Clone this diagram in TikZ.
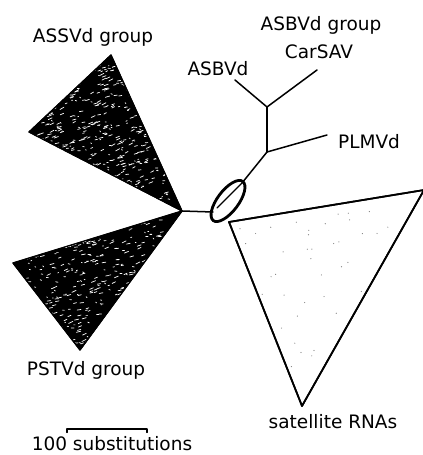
\documentclass[tikz,border=0pt]{standalone}
\usepackage{fontspec}
\setmainfont{DejaVu Sans}
\usetikzlibrary{shapes.geometric}
\begin{document}
\begin{tikzpicture}[x=1bp,y=-1bp,
  branch/.style={line width=1.5bp, line cap=round, line join=round},
  lbl/.style={font=\fontsize{18.5bp}{22bp}\selectfont, inner sep=0pt},
  darktri/.style={fill=black, draw=black, line width=1.2bp, line join=round},
  tribord/.style={draw=black, line width=1.2bp, line join=round},
  lighttri/.style={fill=white, draw=black, line width=1.7bp, line join=round},
  speck/.style={white, line width=0.7bp, line cap=round},
  ringstyle/.style={draw=black, line width=2.8bp, ellipse, minimum width=49bp, minimum height=21bp, inner sep=0pt, rotate=53}]
\useasboundingbox (0,0) rectangle (422,455);
% coordinates
\coordinate (J) at (182,211);
\coordinate (ASSVa) at (111,55);
\coordinate (ASSVb) at (29,132);
\coordinate (PSTVa) at (13,263);
\coordinate (PSTVb) at (80,350);
\coordinate (EL) at (213,212);
\coordinate (EI) at (217,208);
\coordinate (ET) at (242,183);
\coordinate (B1) at (267,152);
\coordinate (B2) at (267,107);
\coordinate (PL) at (327,135);
\coordinate (AS) at (235,80);
\coordinate (CS) at (317,70);
\coordinate (S) at (229,222);
\coordinate (SR) at (424,190);
\coordinate (SB) at (302,406);
\coordinate (barL) at (67,429);
\coordinate (barR) at (147,429);
% satellite triangle
\path[lighttri] (S) -- (SR) -- (SB) -- cycle;
\begin{scope}
\clip (S) -- (SR) -- (SB) -- cycle;
\pgfmathsetseed{7}
\foreach \i in {1,...,80}{
  \pgfmathsetmacro{\px}{235+175*rnd}
  \pgfmathsetmacro{\py}{200+200*rnd}
  \fill[black!50] (\px,\py) circle (0.6bp);
}
\end{scope}
\draw[lighttri, fill=none] (S) -- (SR) -- (SB) -- cycle;
% ASSVd triangle
\path[darktri] (J) -- (ASSVa) -- (ASSVb) -- cycle;
\begin{scope}
\clip (J) -- (ASSVa) -- (ASSVb) -- cycle;
\pgfmathsetseed{3}
\foreach \i in {1,...,520}{
  \pgfmathsetmacro{\px}{36+132*rnd}
  \pgfmathsetmacro{\py}{64+138*rnd}
  \pgfmathsetmacro{\pl}{0.8+3.5*rnd}
  \draw[speck] (\px,\py) -- ++(\pl,{-0.6*\pl+1.6*rnd});
}
\end{scope}
\draw[tribord] (J) -- (ASSVa) -- (ASSVb) -- cycle;
% PSTVd triangle
\path[darktri] (J) -- (PSTVa) -- (PSTVb) -- cycle;
\begin{scope}
\clip (J) -- (PSTVa) -- (PSTVb) -- cycle;
\pgfmathsetseed{11}
\foreach \i in {1,...,460}{
  \pgfmathsetmacro{\px}{20+145*rnd}
  \pgfmathsetmacro{\py}{218+126*rnd}
  \pgfmathsetmacro{\pl}{0.8+3.5*rnd}
  \draw[speck] (\px,\py) -- ++(\pl,{-0.5*\pl+1.6*rnd});
}
\end{scope}
\draw[tribord] (J) -- (PSTVa) -- (PSTVb) -- cycle;
% branches
\draw[branch] (J) -- (EL);
\draw[branch, line width=1.2bp] (EI) -- (ET);
\draw[branch] (ET) -- (B1);
\draw[branch] (B1) -- (PL);
\draw[branch] (B1) -- (B2);
\draw[branch] (B2) -- (AS);
\draw[branch] (B2) -- (CS);
% ring
\node[ringstyle] (ring) at (228,201) {};
% scale bar
\draw[branch, line width=1.3bp] ([yshift=-3.5bp]barL) -- (barL) -- (barR) -- ([yshift=-3.5bp]barR);
% labels
\node[lbl] (lassv) at (93,37) {ASSVd group};
\node[lbl] (lasbvg) at (321,25) {ASBVd group};
\node[lbl] (lcar) at (319,52) {CarSAV};
\node[lbl] (lasbv) at (218,69) {ASBVd};
\node[lbl] (lplm) at (369,142) {PLMVd};
\node[lbl] (lpst) at (86,370) {PSTVd group};
\node[lbl] (lsat) at (333,422) {satellite RNAs};
\node[lbl] (lscale) at (112,444) {100 substitutions};
\end{tikzpicture}
\end{document}
